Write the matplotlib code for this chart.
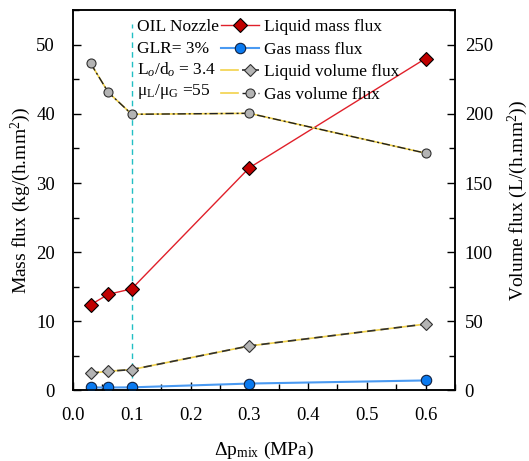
import numpy as np
import matplotlib
matplotlib.use('Agg')
import matplotlib.pyplot as plt
from matplotlib.ticker import MultipleLocator, FormatStrFormatter
from matplotlib.legend_handler import HandlerTuple

plt.rcParams['font.family'] = ['Liberation Serif', 'DejaVu Serif']
plt.rcParams['mathtext.fontset'] = 'custom'
plt.rcParams['mathtext.rm'] = 'Liberation Serif'
plt.rcParams['mathtext.it'] = 'Liberation Serif:italic'

# pressure drop of the mixture (MPa)
dp_mix = [0.03, 0.06, 0.1, 0.3, 0.6]
# mass fluxes, kg/(h.mm2)
liquid_mass = [12.4, 13.9, 14.7, 32.2, 48.0]
gas_mass = [0.43, 0.43, 0.45, 1.0, 1.45]
# volume fluxes, L/(h.mm2)
liquid_vol = [12.5, 13.9, 15.1, 32.2, 48.0]
gas_vol = [236.5, 215.6, 199.7, 200.4, 171.6]

info_lines = ['OIL Nozzle', 'GLR= 3%', r'L$_o$/d$_o$ = 3.4', r'$\mathrm{μ_L/μ_G}$ =55']

fs = 14
fig = plt.figure(figsize=(5.29, 4.61), dpi=100)
ax = fig.add_axes([0.138, 0.153, 0.722, 0.825])
ax2 = ax.twinx()

# vertical marker at 0.1 MPa
ax.plot([0.1, 0.1], [1.8, 53], color='#22bfc4', lw=1, ls=(0, (4, 3)), zorder=1)

l_liq, = ax.plot(dp_mix, liquid_mass, color='#e0202a', lw=1, marker='D', ms=7,
                 mfc='#c00000', mec='black', mew=0.8, zorder=5)
l_gas, = ax.plot(dp_mix, gas_mass, color='#4a9af2', lw=1.5, marker='o', ms=7.5,
                 mfc='#0a7af0', mec='#102040', mew=0.8, zorder=5)

# volume flux curves: yellow core under black dashes
y1, = ax2.plot(dp_mix, liquid_vol, color='#f2d24a', lw=1.2, zorder=2)
v1, = ax2.plot(dp_mix, liquid_vol, color='#303030', lw=1.2, ls=(0, (5, 3)),
               marker='D', ms=6, mfc='#b4b4b4', mec='#303030', mew=0.8, zorder=3)
y2, = ax2.plot(dp_mix, gas_vol, color='#f2d24a', lw=1.2, zorder=2)
v2, = ax2.plot(dp_mix, gas_vol, color='#202020', lw=1.0, ls=(0, (6, 2, 1.5, 2)),
               marker='o', ms=6.5, mfc='#b4b4b4', mec='#303030', mew=0.8, zorder=3)

ax.set_xlim(0, 0.65)
ax.set_ylim(0, 55)
ax2.set_ylim(0, 275)
ax.xaxis.set_major_locator(MultipleLocator(0.1))
ax.xaxis.set_minor_locator(MultipleLocator(0.05))
ax.yaxis.set_major_locator(MultipleLocator(10))
ax.yaxis.set_minor_locator(MultipleLocator(5))
ax2.yaxis.set_major_locator(MultipleLocator(50))
ax2.yaxis.set_minor_locator(MultipleLocator(25))
ax.xaxis.set_major_formatter(FormatStrFormatter('%.1f'))

ax.tick_params(axis='x', which='both', direction='in', top=False, labelsize=13.5, pad=12)
ax.tick_params(axis='y', which='both', direction='in', labelsize=13.5, pad=13)
ax2.tick_params(axis='y', which='both', direction='in', labelsize=13.5, pad=7)
for a in (ax, ax2):
    a.tick_params(which='major', length=6, width=1)
    a.tick_params(which='minor', length=4, width=1)
    for s in a.spines.values():
        s.set_linewidth(1.1)

ax.set_xlabel(r'$\Delta$p$_{\mathrm{mix}}$ (MPa)', fontsize=fs, labelpad=11)
ax.set_ylabel(r'Mass flux (kg/(h.mm$^2$))', fontsize=fs, labelpad=2)
ax2.set_ylabel(r'Volume flux (L/(h.mm$^2$))', fontsize=fs, labelpad=9)

leg = ax.legend([l_liq, l_gas, (y1, v1), (y2, v2)],
                ['Liquid mass flux', 'Gas mass flux', 'Liquid volume flux', 'Gas volume flux'],
                handler_map={tuple: HandlerTuple(ndivide=None)},
                loc='upper left', bbox_to_anchor=(0.378, 0.985), frameon=False,
                fontsize=12.5, handlelength=2.2, handletextpad=0.3,
                labelspacing=0.36, borderaxespad=0, borderpad=0.2)
leg.set_zorder(10)

for i, txt in enumerate(info_lines):
    ax.text(0.168, 0.955 - i * 0.0565, txt, transform=ax.transAxes,
            fontsize=12.5, va='center', ha='left')

fig.savefig('out.png', dpi=100)
